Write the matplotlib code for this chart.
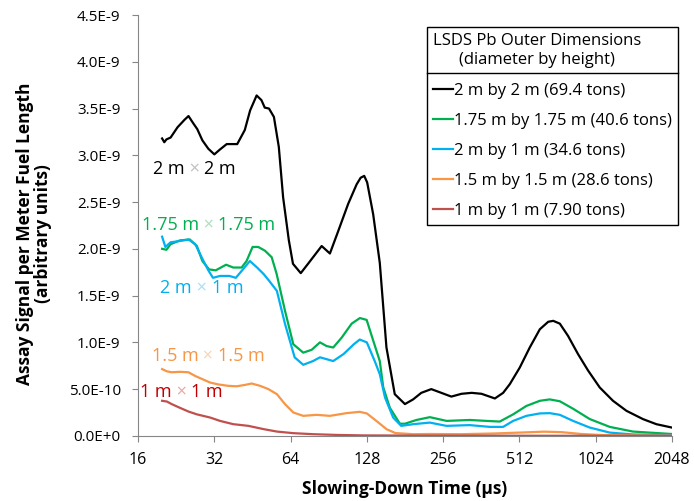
import numpy as np
import matplotlib
matplotlib.use('Agg')
import matplotlib.pyplot as plt
from matplotlib.lines import Line2D

plt.rcParams['font.family'] = ['Open Sans', 'DejaVu Sans']

# signal values in units of 1e-9 (arbitrary units), times in microseconds
t_2x2 = [19.9, 20.3, 20.7, 21.5, 22.9, 24.4, 25.3, 26.3, 27.4, 28.7, 30.3, 32.0, 33.6, 35.8, 39.4,
         42.2, 44.3, 47.0, 49.1, 50.6, 52.6, 55.0, 57.5, 59.8, 63.0, 65.4, 70.2, 75.0, 84.9, 91.5,
         98.7, 108, 116.7, 121, 125, 128.4, 135.6, 144, 153, 165, 181, 195, 210, 230, 252, 276,
         303, 332, 363, 410, 442, 469.6, 514, 563, 617, 666, 697, 740, 797, 873, 956, 1064, 1200,
         1356, 1577, 1780, 2048]
s_2x2 = [3.18, 3.14, 3.17, 3.19, 3.30, 3.38, 3.42, 3.35, 3.28, 3.16, 3.07, 3.01, 3.06, 3.12, 3.12,
         3.27, 3.48, 3.64, 3.59, 3.51, 3.50, 3.41, 3.09, 2.55, 2.09, 1.84, 1.74, 1.84, 2.03, 1.95,
         2.19, 2.48, 2.69, 2.76, 2.78, 2.71, 2.37, 1.85, 0.945, 0.446, 0.34, 0.39, 0.46, 0.50, 0.46, 0.42,
         0.45, 0.46, 0.45, 0.40, 0.46, 0.553, 0.73, 0.945, 1.14, 1.22, 1.23, 1.20, 1.07, 0.875, 0.70, 0.517,
         0.375, 0.268, 0.179, 0.125, 0.089]

t_175 = [19.9, 20.7, 21.5, 23.4, 25.6, 27.3, 28.7, 30.5, 32.4, 35.6, 38.0, 41.0, 42.9, 45.3, 47.7,
         50.7, 53.9, 56.4, 60.8, 65.6, 71.8, 77.5, 83.6, 88.8, 94.3, 101.8, 111.5, 120.2, 127.8, 135.6,
         144, 148.6, 157.8, 172.9, 181, 201, 227, 264.5, 326, 380, 428.6, 484, 546, 617, 675, 740,
         835, 971, 1165, 1440, 2048]
s_175 = [2.00, 1.99, 2.05, 2.09, 2.10, 2.03, 1.87, 1.78, 1.77, 1.83, 1.80, 1.80, 1.87, 2.02, 2.02,
         1.98, 1.91, 1.73, 1.34, 0.98, 0.89, 0.92, 1.00, 0.96, 0.945, 1.05, 1.20, 1.26, 1.24, 1.02,
         0.80, 0.52, 0.30, 0.13, 0.13, 0.17, 0.20, 0.16, 0.17, 0.16, 0.153, 0.23, 0.32, 0.375, 0.39, 0.37,
         0.29, 0.18, 0.096, 0.046, 0.02]

t_2x1 = [19.9, 20.5, 21.5, 22.9, 25.3, 26.9, 28.5, 30.3, 31.6, 33.7, 36.7, 38.9, 41.2, 44.2, 47.2,
         50.1, 52.6, 56.5, 60.8, 66.4, 71.8, 78.5, 83.6, 94.3, 103.6, 113.8, 120, 128, 137.5, 144,
         151, 162.6, 175, 195, 227, 264, 326, 392, 442, 484, 546, 617, 675, 740, 835, 971, 1165,
         1440, 2048]
s_2x1 = [2.13, 2.02, 2.07, 2.08, 2.10, 2.05, 1.91, 1.77, 1.69, 1.71, 1.71, 1.69, 1.77, 1.87, 1.80,
         1.73, 1.66, 1.55, 1.20, 0.84, 0.76, 0.80, 0.84, 0.80, 0.875, 0.98, 1.03, 1.00, 0.80, 0.66,
         0.41, 0.196, 0.107, 0.125, 0.142, 0.107, 0.115, 0.096, 0.096, 0.16, 0.214, 0.24, 0.243, 0.225,
         0.16, 0.089, 0.035, 0.015, 0.01]

t_15 = [19.9, 20.8, 21.7, 23.4, 25.3, 26.9, 28.5, 30.8, 33.2, 36.3, 39.2, 42.3, 44.9, 48.5, 52.3,
        56.5, 60.8, 65.6, 71.8, 81.1, 91.5, 106.4, 120, 128, 139.6, 153.4, 166, 195, 227, 300,
        400, 512, 640, 750, 900, 1100, 2048]
s_15 = [0.714, 0.69, 0.68, 0.685, 0.68, 0.64, 0.61, 0.57, 0.55, 0.535, 0.53, 0.545, 0.56, 0.535, 0.50,
        0.446, 0.34, 0.25, 0.214, 0.225, 0.214, 0.243, 0.257, 0.24, 0.16, 0.07, 0.03, 0.018, 0.02, 0.018,
        0.025, 0.035, 0.045, 0.04, 0.02, 0.008, 0.002]

t_1x1 = [19.9, 20.8, 21.7, 23.4, 25.3, 27.3, 30.8, 33.7, 38.0, 43.6, 50.1, 56.5, 65.6, 78.5, 97.6,
         124, 200, 400, 800, 2048]
s_1x1 = [0.375, 0.367, 0.34, 0.30, 0.26, 0.23, 0.196, 0.16, 0.125, 0.107, 0.072, 0.046, 0.029, 0.018,
         0.010, 0.005, 0.003, 0.002, 0.001, 0.0005]

labels = ['2 m by 2 m (69.4 tons)', '1.75 m by 1.75 m (40.6 tons)', '2 m by 1 m (34.6 tons)',
          '1.5 m by 1.5 m (28.6 tons)', '1 m by 1 m (7.90 tons)']
colors = ['#000000', '#00B050', '#00B0F0', '#F79646', '#C0504D']

x_ticks = [16, 32, 64, 128, 256, 512, 1024, 2048]
y_ticks = [0, 0.5e-9, 1.0e-9, 1.5e-9, 2.0e-9, 2.5e-9, 3.0e-9, 3.5e-9, 4.0e-9, 4.5e-9]
y_ticklabels = ['0.0E+0', '5.0E-10', '1.0E-9', '1.5E-9', '2.0E-9', '2.5E-9',
                '3.0E-9', '3.5E-9', '4.0E-9', '4.5E-9']

fig = plt.figure(figsize=(6.94, 5.01), dpi=100)
ax = fig.add_axes([0.199, 0.130, 0.769, 0.840])

series = [(t_2x2, s_2x2), (t_175, s_175), (t_2x1, s_2x1), (t_15, s_15), (t_1x1, s_1x1)]
for (t, s), lab, c in zip(series, labels, colors):
    ax.plot(t, np.array(s) * 1e-9, color=c, lw=1.6, label=lab)

ax.set_xscale('log', base=2)
ax.set_xlim(16, 2048)
ax.set_ylim(0, 4.5e-9)
ax.set_xticks(x_ticks)
ax.set_xticklabels([str(v) for v in x_ticks])
ax.minorticks_off()
ax.set_yticks(y_ticks)
ax.set_yticklabels(y_ticklabels)
ax.tick_params(direction='out', length=4.5, color='#868686', labelsize=11)
ax.tick_params(axis='x', pad=7, labelsize=11.5)
ax.tick_params(axis='y', pad=8)
for side in ['top', 'right']:
    ax.spines[side].set_visible(False)
for side in ['left', 'bottom']:
    ax.spines[side].set_color('#868686')

ax.set_xlabel('Slowing-Down Time (\u00b5s)', fontsize=12.5, fontweight='bold', labelpad=9)
ax.set_ylabel('Assay Signal per Meter Fuel Length\n(arbitrary units)', fontsize=12.5,
              fontweight='bold', linespacing=1.05)
ax.yaxis.set_label_coords(-0.195, 0.481)
ax.yaxis.label.set_va('center')

# curve labels with a lighter multiplication sign
notes = [(18.3, 2.85e-9, '2 m', '2 m', '#000000', '#BFBFBF'),
         (16.55, 2.26e-9, '1.75 m', '1.75 m', '#00B050', '#A6E2BE'),
         (19.6, 1.585e-9, '2 m', '1 m', '#00B0F0', '#A6E0F8'),
         (18.1, 0.857e-9, '1.5 m', '1.5 m', '#F79646', '#FBD2B0'),
         (16.3, 0.464e-9, '1 m', '1 m', '#C00000', '#EBA6A6')]
for x0, y0, a, b, c, cx in notes:
    t1 = ax.text(x0, y0, a, color=c, fontsize=13, ha='left', va='center')
    t2 = ax.annotate(' \u00d7 ', xy=(1, 0), xycoords=t1, color=cx, fontsize=13, ha='left', va='bottom')
    ax.annotate(b, xy=(1, 0), xycoords=t2, color=c, fontsize=13, ha='left', va='bottom')

leg = ax.legend(loc='upper right', bbox_to_anchor=(678 / 694, 1 - 27 / 501),
                bbox_transform=fig.transFigure, borderaxespad=0,
                title='LSDS Pb Outer Dimensions\n(diameter by height)', alignment='left',
                fontsize=12, title_fontsize=12, fancybox=False, edgecolor='black',
                framealpha=1, handlelength=1.2, handletextpad=0.1, labelspacing=0.85,
                borderpad=0.35)
leg.get_frame().set_linewidth(1.0)
leg.get_title().set_multialignment('center')
leg.get_title().set_linespacing(1.3)

fig.canvas.draw()
lb = leg.get_window_extent()
tb = leg.get_title().get_window_extent()
ysep = (tb.y0 - 5) / fig.bbox.height
fig.add_artist(Line2D([lb.x0 / fig.bbox.width, lb.x1 / fig.bbox.width], [ysep, ysep],
                      transform=fig.transFigure, color='black', lw=1.0))

fig.savefig('out.png', dpi=100)
